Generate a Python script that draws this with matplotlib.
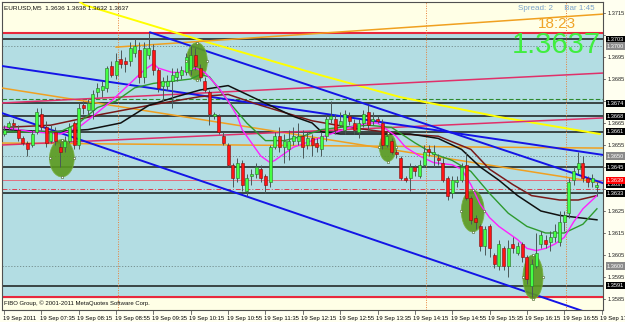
import numpy as np
import matplotlib.pyplot as plt
from matplotlib.patches import Ellipse
import matplotlib.transforms as mtransforms

# EURUSD M5 candles, 19 Sep 2011 06:55 .. 17:30 (open, high, low, close)
opens = [1.3660, 1.3663, 1.3665, 1.3662, 1.3658, 1.3656, 1.3655, 1.3661, 1.3669, 1.3663,
         1.3657, 1.3661, 1.3654, 1.3654, 1.3657, 1.3665, 1.3655, 1.3673, 1.3671, 1.3671,
         1.3679, 1.3680, 1.3681, 1.3691, 1.3687, 1.3694, 1.3693, 1.3693, 1.3697, 1.3698,
         1.3686, 1.3696, 1.3698, 1.3689, 1.3682, 1.3682, 1.3684, 1.3686, 1.3687, 1.3688,
         1.3689, 1.3696, 1.3690, 1.3684, 1.3679, 1.3668, 1.3668, 1.3659, 1.3655, 1.3646,
         1.3640, 1.3647, 1.3634, 1.3641, 1.3642, 1.3644, 1.3641, 1.3638, 1.3654, 1.3659,
         1.3654, 1.3653, 1.3657, 1.3657, 1.3659, 1.3655, 1.3658, 1.3656, 1.3653, 1.3659,
         1.3667, 1.3667, 1.3664, 1.3662, 1.3668, 1.3665, 1.3661, 1.3665, 1.3670, 1.3666,
         1.3667, 1.3665, 1.3655, 1.3657, 1.3652, 1.3649, 1.3640, 1.3640, 1.3645, 1.3641,
         1.3646, 1.3653, 1.3651, 1.3649, 1.3647, 1.3640, 1.3633, 1.3638, 1.3639, 1.3646,
         1.3631, 1.3622, 1.3618, 1.3609, 1.3618, 1.3605, 1.3600, 1.3608, 1.3600, 1.3610,
         1.3606, 1.3610, 1.3604, 1.3591, 1.3600, 1.3610, 1.3612, 1.3611, 1.3613, 1.3611,
         1.3620, 1.3624, 1.3639, 1.3644, 1.3647, 1.3640, 1.3638, 1.3636]
highs = [1.3664, 1.3666, 1.3667, 1.3664, 1.3659, 1.3657, 1.3662, 1.3672, 1.3672, 1.3666,
         1.3664, 1.3663, 1.3656, 1.3659, 1.3665, 1.3666, 1.3674, 1.3675, 1.3676, 1.3680,
         1.3683, 1.3684, 1.3691, 1.3693, 1.3697, 1.3698, 1.3695, 1.3702, 1.3703, 1.3702,
         1.3702, 1.3706, 1.3701, 1.3690, 1.3686, 1.3687, 1.3690, 1.3690, 1.3691, 1.3697,
         1.3700, 1.3699, 1.3692, 1.3686, 1.3680, 1.3670, 1.3669, 1.3661, 1.3656, 1.3647,
         1.3649, 1.3648, 1.3642, 1.3644, 1.3647, 1.3646, 1.3642, 1.3655, 1.3661, 1.3663,
         1.3660, 1.3662, 1.3663, 1.3665, 1.3662, 1.3661, 1.3660, 1.3658, 1.3661, 1.3669,
         1.3675, 1.3669, 1.3670, 1.3671, 1.3670, 1.3667, 1.3667, 1.3671, 1.3673, 1.3670,
         1.3668, 1.3667, 1.3660, 1.3658, 1.3653, 1.3650, 1.3641, 1.3647, 1.3646, 1.3648,
         1.3655, 1.3655, 1.3655, 1.3651, 1.3649, 1.3641, 1.3641, 1.3641, 1.3647, 1.3652,
         1.3632, 1.3623, 1.3619, 1.3618, 1.3619, 1.3606, 1.3612, 1.3609, 1.3612, 1.3613,
         1.3611, 1.3611, 1.3605, 1.3603, 1.3615, 1.3616, 1.3614, 1.3616, 1.3619, 1.3625,
         1.3625, 1.3640, 1.3645, 1.3652, 1.3650, 1.3641, 1.3642, 1.3638]
lows = [1.3659, 1.3662, 1.3662, 1.3657, 1.3655, 1.3650, 1.3654, 1.3660, 1.3662, 1.3654,
        1.3656, 1.3655, 1.3645, 1.3652, 1.3656, 1.3653, 1.3653, 1.3669, 1.3669, 1.3667,
        1.3677, 1.3677, 1.3679, 1.3686, 1.3685, 1.3690, 1.3688, 1.3691, 1.3695, 1.3683,
        1.3683, 1.3694, 1.3687, 1.3679, 1.3675, 1.3680, 1.3672, 1.3684, 1.3685, 1.3687,
        1.3687, 1.3689, 1.3684, 1.3679, 1.3664, 1.3667, 1.3660, 1.3655, 1.3645, 1.3636,
        1.3638, 1.3634, 1.3632, 1.3637, 1.3640, 1.3638, 1.3633, 1.3636, 1.3653, 1.3652,
        1.3647, 1.3648, 1.3655, 1.3655, 1.3649, 1.3653, 1.3650, 1.3652, 1.3650, 1.3657,
        1.3665, 1.3660, 1.3663, 1.3660, 1.3664, 1.3660, 1.3658, 1.3663, 1.3662, 1.3664,
        1.3665, 1.3653, 1.3654, 1.3651, 1.3649, 1.3639, 1.3638, 1.3634, 1.3641, 1.3640,
        1.3645, 1.3650, 1.3645, 1.3646, 1.3638, 1.3630, 1.3631, 1.3636, 1.3638, 1.3630,
        1.3619, 1.3617, 1.3607, 1.3605, 1.3604, 1.3599, 1.3598, 1.3598, 1.3595, 1.3606,
        1.3605, 1.3602, 1.3592, 1.3586, 1.3599, 1.3608, 1.3608, 1.3607, 1.3611, 1.3609,
        1.3616, 1.3622, 1.3637, 1.3642, 1.3638, 1.3636, 1.3636, 1.3632]
closes = [1.3662, 1.3665, 1.3664, 1.3658, 1.3656, 1.3653, 1.3660, 1.3670, 1.3663, 1.3656,
          1.3661, 1.3657, 1.3652, 1.3657, 1.3663, 1.3655, 1.3672, 1.3672, 1.3674, 1.3678,
          1.3681, 1.3682, 1.3690, 1.3687, 1.3693, 1.3692, 1.3692, 1.3699, 1.3700, 1.3686,
          1.3699, 1.3699, 1.3689, 1.3681, 1.3684, 1.3684, 1.3687, 1.3688, 1.3689, 1.3695,
          1.3696, 1.3691, 1.3686, 1.3680, 1.3669, 1.3669, 1.3661, 1.3656, 1.3646, 1.3640,
          1.3647, 1.3637, 1.3640, 1.3642, 1.3645, 1.3640, 1.3637, 1.3654, 1.3659, 1.3654,
          1.3657, 1.3657, 1.3659, 1.3659, 1.3654, 1.3658, 1.3655, 1.3654, 1.3659, 1.3667,
          1.3668, 1.3662, 1.3666, 1.3669, 1.3666, 1.3662, 1.3665, 1.3669, 1.3664, 1.3667,
          1.3666, 1.3655, 1.3659, 1.3652, 1.3651, 1.3640, 1.3639, 1.3645, 1.3643, 1.3646,
          1.3652, 1.3652, 1.3652, 1.3648, 1.3639, 1.3632, 1.3639, 1.3639, 1.3645, 1.3631,
          1.3621, 1.3620, 1.3609, 1.3617, 1.3608, 1.3601, 1.3610, 1.3600, 1.3608, 1.3608,
          1.3609, 1.3604, 1.3594, 1.3601, 1.3606, 1.3614, 1.3610, 1.3613, 1.3616, 1.3620,
          1.3623, 1.3638, 1.3643, 1.3647, 1.3640, 1.3638, 1.3640, 1.3637]

time_labels = ["19 Sep 2011", "19 Sep 07:35", "19 Sep 08:15", "19 Sep 08:55", "19 Sep 09:35",
               "19 Sep 10:15", "19 Sep 10:55", "19 Sep 11:35", "19 Sep 12:15", "19 Sep 12:55",
               "19 Sep 13:35", "19 Sep 14:15", "19 Sep 14:55", "19 Sep 15:35", "19 Sep 16:15",
               "19 Sep 16:55", "19 Sep 17:35"]

# moving averages (bar index, price)
ma_fast_bars = [0, 6, 12, 16, 19, 23, 26, 30, 32, 33, 36, 38, 41, 43, 46, 48, 50, 51, 53, 55,
                57, 58, 60, 62, 66, 70, 74, 78, 80, 82, 84, 86, 89, 92, 96, 98, 100, 102, 104, 106,
                108, 110, 112, 114, 116, 118, 120, 122, 124, 127]
ma_fast = [1.3663, 1.3661, 1.3660, 1.3663, 1.3668, 1.3675, 1.3681, 1.3689, 1.3692, 1.3690,
           1.3688, 1.3688, 1.3690, 1.3688, 1.3681, 1.3675, 1.3668, 1.3662, 1.3656, 1.3650,
           1.3647, 1.3648, 1.3651, 1.3654, 1.3657, 1.3660, 1.3663, 1.3665, 1.3665, 1.3662,
           1.3659, 1.3654, 1.3650, 1.3647, 1.3646, 1.3644, 1.3637, 1.3628, 1.3622, 1.3618,
           1.3615, 1.3612, 1.3608, 1.3607, 1.3608, 1.3610, 1.3613, 1.3620, 1.3626, 1.3632]
ma_mid_bars = [0, 8, 12, 16, 20, 24, 28, 32, 36, 40, 42, 44, 48, 52, 56, 60, 64, 68, 72, 78,
               83, 88, 92, 96, 100, 104, 108, 112, 116, 120, 124, 127]
ma_mid = [1.3661, 1.3661, 1.3661, 1.3665, 1.3672, 1.3675, 1.3681, 1.3683, 1.3684, 1.3685,
          1.3687, 1.3686, 1.3675, 1.3665, 1.3657, 1.3657, 1.3659, 1.3662, 1.3663, 1.3664,
          1.3663, 1.3656, 1.3651, 1.3648, 1.3643, 1.3633, 1.3624, 1.3618, 1.3615, 1.3615,
          1.3619, 1.3626]
ma_slow_bars = [0, 10, 18, 25, 31, 37, 42, 48, 51, 55, 58, 62, 66, 68, 72, 87, 93, 98, 102, 106,
                110, 115, 119, 127]
ma_slow = [1.3662, 1.3661, 1.3662, 1.3665, 1.3673, 1.3677, 1.3680, 1.3682, 1.3679, 1.3675,
           1.3672, 1.3668, 1.3665, 1.3661, 1.3660, 1.3660, 1.3658, 1.3653, 1.3645, 1.3639,
           1.3632, 1.3625, 1.3623, 1.3621]
ma_long_bars = [0, 10, 21, 31, 42, 48, 55, 66, 74, 85, 93, 100, 104, 109, 113, 119, 123, 127]
ma_long = [1.3663, 1.3664, 1.3669, 1.3673, 1.3677, 1.3678, 1.3673, 1.3666, 1.3663, 1.3660,
           1.3659, 1.3653, 1.3644, 1.3637, 1.3632, 1.3630, 1.3630, 1.3632]

# drawn objects
band_low, band_high = 1.3586, 1.3706
hlines_black = [1.3703, 1.3674, 1.3668, 1.3661, 1.3645, 1.3633, 1.3591]
hlines_dotted = [1.3700, 1.3650, 1.3600]
hline_green = 1.3676
ask, bid = 1.3639, 1.3637
hline_dashdot = 1.3635
vlines_bars = [24.4, 90.4, 120.4]

yellow_bars = [16.3, 17.3, 42.0, 67.7, 84.8, 106.2, 127.6]
yellow_prices = [1.3720, 1.37186, 1.37027, 1.36868, 1.36768, 1.36677, 1.3660]
orange_lines = [((24.0, 1.36995), (128.3, 1.37145)),
                ((-0.43, 1.36809), (128.3, 1.36377)),
                ((-0.43, 1.36559), (128.3, 1.36536))]
crimson_lines = [((-0.43, 1.36741), (128.3, 1.36877)),
                 ((-0.43, 1.36550), (128.3, 1.36673))]
blue_lines = [((31.3, 1.37062), (128.3, 1.36377)),
              ((-0.43, 1.36909), (128.3, 1.36505)),
              ((-0.43, 1.36695), (128.3, 1.35764))]

ell_bars = [12.4, 41.3, 82.2, 100.4, 113.3]
ell_prices = [1.3649, 1.3693, 1.3654, 1.3625, 1.3595]
ell_w = [5.3, 4.5, 3.6, 4.9, 4.3]
ell_h = [0.0017, 0.0017, 0.0013, 0.0019, 0.0020]

price_ticks = [1.3715, 1.3705, 1.3695, 1.3685, 1.3675, 1.3665, 1.3655, 1.3645, 1.3635,
               1.3625, 1.3615, 1.3605, 1.3595, 1.3585]

W, H = 625, 322
fig = plt.figure(figsize=(W / 100, H / 100), dpi=100)
fig.patch.set_facecolor('#fffff0')
ax = fig.add_axes([2 / W, 12 / H, 601 / W, 308 / H])
ax.set_facecolor('#ffffe6')
ax.set_xlim(-0.43, 128.3)
ax.set_ylim(1.3580, 1.3720)
ax.set_xticks([])
ax.set_yticks([])
for s in ax.spines.values():
    s.set_color('#505050')
    s.set_linewidth(0.8)

ax.axhspan(band_low, band_high, color='#b3dde3', zorder=0)
ax.axhline(band_high, color='#e8283c', lw=1.5, zorder=2)
ax.axhline(band_low, color='#e8283c', lw=1.5, zorder=2)
for lv in hlines_black:
    ax.axhline(lv, color='#303838', lw=1.3, zorder=2)
for lv in hlines_dotted:
    ax.axhline(lv, color='#708888', lw=0.6, ls=(0, (1.5, 2)), zorder=2)
ax.axhline(hline_green, color='#2e8b2e', lw=0.8, ls=(0, (4, 2)), zorder=2)
ax.axhline(ask, color='#e07080', lw=0.7, zorder=2)
ax.axhline(hline_dashdot, color='#e04050', lw=0.7, ls=(0, (5, 2, 1, 2)), zorder=2)
for b in vlines_bars:
    ax.axvline(b, color='#e8803a', lw=0.7, ls=(0, (1, 1.5)), zorder=2)

ax.plot(yellow_bars, yellow_prices, color='#ffff00', lw=1.4, zorder=3)
for (x0, y0), (x1, y1) in orange_lines:
    ax.plot([x0, x1], [y0, y1], color='#f0a020', lw=1.1, zorder=3)
for (x0, y0), (x1, y1) in crimson_lines:
    ax.plot([x0, x1], [y0, y1], color='#e0306a', lw=1.1, zorder=3)
for (x0, y0), (x1, y1) in blue_lines:
    ax.plot([x0, x1], [y0, y1], color='#1414e6', lw=1.4, zorder=3)

for bx, py, w, h in zip(ell_bars, ell_prices, ell_w, ell_h):
    ax.add_patch(Ellipse((bx, py), w, h, facecolor='#5a9a1e', edgecolor='#78b040',
                         lw=0.6, alpha=0.9, zorder=4))
    for dx, dy in [(0, h / 2), (0, -h / 2), (w / 2, 0), (-w / 2, 0)]:
        ax.plot(bx + dx, py + dy, marker='s', ms=2, mfc='white', mec='#406020',
                mew=0.4, zorder=8)

ax.plot(ma_long_bars, ma_long, color='#7a1a1a', lw=1.1, zorder=5)
ax.plot(ma_slow_bars, ma_slow, color='#101010', lw=1.1, zorder=5)
ax.plot(ma_mid_bars, ma_mid, color='#2e9a2e', lw=1.0, zorder=5)
ax.plot(ma_fast_bars, ma_fast, color='#ff20ff', lw=1.0, zorder=5)

o = np.array(opens)
hi = np.array(highs)
lo = np.array(lows)
c = np.array(closes)
idx = np.arange(len(o))
up = c >= o
ax.vlines(idx, lo, hi, color='#4a5858', lw=0.7, zorder=6)
body_lo = np.minimum(o, c)
body_h = np.maximum(np.abs(c - o), 0.00004)
ax.bar(idx[up], body_h[up], bottom=body_lo[up], width=0.64, color='#44ff44',
       edgecolor='#2a6a2a', lw=0.4, zorder=7)
ax.bar(idx[~up], body_h[~up], bottom=body_lo[~up], width=0.64, color='#ff1414',
       edgecolor='#7a1010', lw=0.4, zorder=7)

# right price scale
trans = mtransforms.blended_transform_factory(ax.transAxes, ax.transData)
fnt = 'Liberation Sans'
fs = 4.1
box_levels = hlines_black + [bid]
all_boxes = box_levels + hlines_dotted + [ask]
for p in price_ticks:
    ax.plot([1.0, 1.004], [p, p], color='#404040', lw=0.5, transform=trans, clip_on=False)
    if min(abs(p - b) for b in all_boxes) < 0.00025:
        continue
    ax.text(1.0085, p, f'{p:.4f}', transform=trans, fontsize=fs, family=fnt,
            va='center', ha='left', color='#202020', clip_on=False)


def box(lv, fc):
    ax.text(1.0065, lv, f'{lv:.4f}', transform=trans, fontsize=fs, family=fnt,
            va='center', ha='left', color='white', clip_on=False,
            bbox=dict(boxstyle='square,pad=0.2', fc=fc, ec='none'))


for lv in box_levels:
    box(lv, '#000000')
for lv in hlines_dotted:
    box(lv, '#8a8a8a')
box(ask, '#ff0000')

# time scale
tx = mtransforms.blended_transform_factory(ax.transData, ax.transAxes)
for k, lab in enumerate(time_labels):
    xb = k * 8
    ax.plot([xb, xb], [0, -0.012], color='#404040', lw=0.5, transform=tx, clip_on=False)
    ax.text(xb - 0.3, -0.02, lab, fontsize=4.2, family=fnt, va='top', ha='left',
            transform=tx, clip_on=False)

fig.text(4 / W, 1 - 8 / H, 'EURUSD,M5  1.3636 1.3638 1.3632 1.3637', fontsize=4.6,
         family=fnt, va='center', ha='left', color='#101010')
fig.text(518 / W, 1 - 9 / H, 'Spread: 2     Bar 1:45', fontsize=5.8, family=fnt,
         va='center', ha='left', color='#7ba3cc')
fig.text(557 / W, 1 - 24 / H, '18:23', fontsize=11, family=fnt, va='center',
         ha='center', color='#f0a428')
fig.text(601 / W, 1 - 45 / H, '1.3637', fontsize=21, family=fnt, va='center',
         ha='right', color='#40ee40')
fig.text(4 / W, 1 - 303 / H, 'FIBO Group, \u00a9 2001-2011 MetaQuotes Software Corp.',
         fontsize=4.3, family=fnt, va='center', ha='left', color='#101010')

fig.savefig('out.png', dpi=100, facecolor=fig.get_facecolor())
